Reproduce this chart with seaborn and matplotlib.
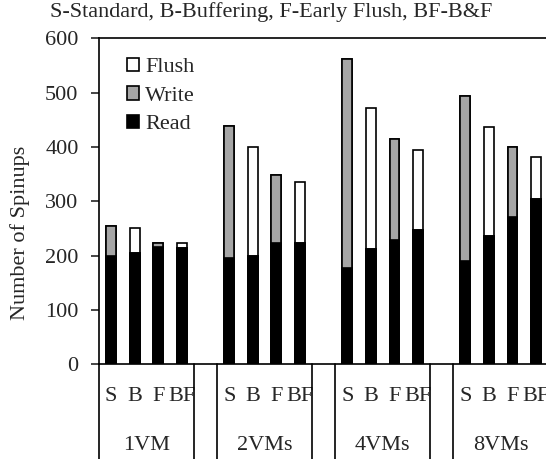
import numpy as np
import pandas as pd
import seaborn as sns
import matplotlib.pyplot as plt

# values
groups = ["1VM", "2VMs", "4VMs", "8VMs"]
schemes = ["S", "B", "F", "BF"]
read = [200, 205, 215, 214,
        196, 199, 223, 223,
        177, 213, 228, 248,
        191, 237, 271, 305]
write = [55, 0, 9, 0,
         243, 0, 125, 0,
         384, 0, 187, 0,
         302, 0, 128, 0]
flush = [0, 45, 0, 10,
         0, 201, 0, 113,
         0, 259, 0, 147,
         0, 200, 0, 77]

# one empty slot between groups
slot = [g * 5 + s for g in range(len(groups)) for s in range(len(schemes))]
df = pd.DataFrame({"slot": slot, "Read": read, "Write": write, "Flush": flush})
df["rw"] = df["Read"] + df["Write"]
df["total"] = df["rw"] + df["Flush"]

sns.set_style("ticks")
plt.rcParams["font.family"] = ["Liberation Serif", "DejaVu Serif"]
plt.rcParams["font.size"] = 16

fig = plt.figure(figsize=(5.46, 4.59), dpi=100)
ax = fig.add_axes([0.182, 0.2063, 0.8215, 0.7103])

kw = dict(native_scale=True, width=0.42, edgecolor="black", linewidth=1.2, ax=ax, errorbar=None)
sns.barplot(data=df, x="slot", y="total", color="white", label="Flush", **kw)
sns.barplot(data=df, x="slot", y="rw", color="#a6a6a6", label="Write", **kw)
sns.barplot(data=df, x="slot", y="Read", color="black", label="Read", **kw)

ax.set_xlim(-0.5, 18.5)
ax.set_ylim(0, 600)
ax.set_yticks(range(0, 601, 100))
ax.set_ylabel("Number of Spinups")
ax.yaxis.set_label_coords(-0.155, 0.404)
ax.set_xlabel("")
ax.set_xticks(slot, schemes * len(groups))
ax.tick_params(axis="x", length=0, pad=16, labelsize=16)
ax.tick_params(axis="y", length=6, width=1.2, pad=9, labelsize=16, direction="out")
for s in ax.spines.values():
    s.set_linewidth(1.2)
    s.set_color("black")

# group labels and separators below the axis
trans = ax.get_xaxis_transform()
for i, g in enumerate(groups):
    ax.text(i * 5 + 1.5, -0.262, g, transform=trans, ha="center", va="baseline", fontsize=16)
    for xe in (i * 5 - 0.5, i * 5 + 3.5):
        ax.plot([xe, xe], [0, -0.4], transform=trans, color="black", lw=1.2, clip_on=False)

ax.legend(loc="upper left", bbox_to_anchor=(0.062, 0.94), frameon=False,
          handlelength=0.55, handleheight=0.55, handletextpad=0.25,
          labelspacing=0.4, borderpad=0, borderaxespad=0, fontsize=16)

fig.text(0.092, 0.973, "S-Standard, B-Buffering, F-Early Flush, BF-B&F",
         ha="left", va="center", fontsize=16)

fig.savefig("out.png", dpi=100)
